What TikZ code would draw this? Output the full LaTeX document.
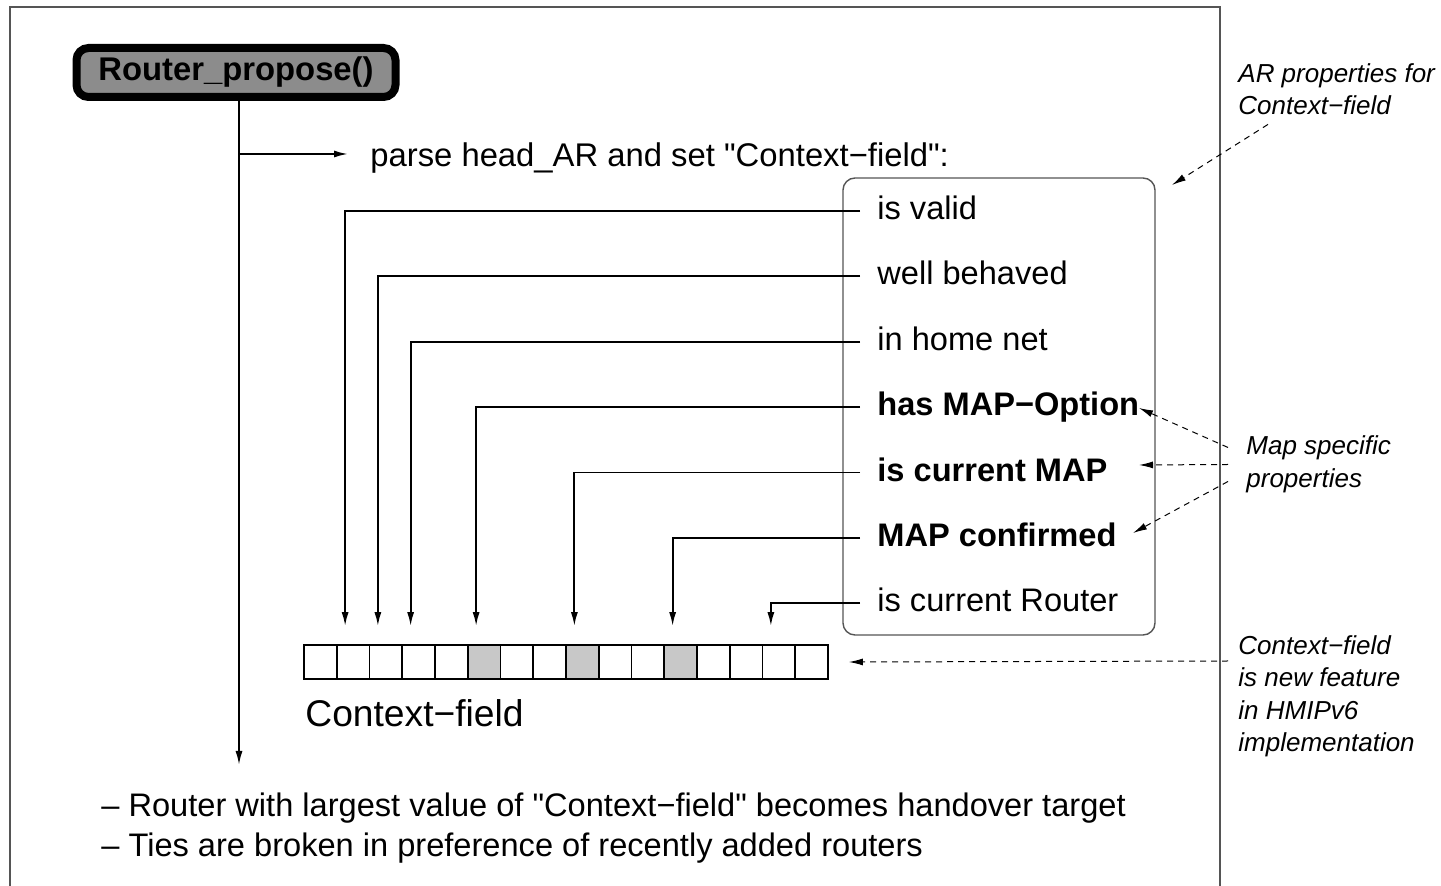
\documentclass[tikz,border=0pt]{standalone}
\usepackage{fontspec}
\setmainfont{Liberation Sans}
\usetikzlibrary{arrows.meta}

\definecolor{boxgray}{HTML}{8C8C8C}
\definecolor{cellgray}{HTML}{C8C8C8}
\definecolor{framegray}{HTML}{555555}

\tikzset{
  conn/.style={line width=0.9pt, -{Latex[length=7pt,width=3.5pt]}},
  note/.style={dash pattern=on 3pt off 2.5pt, line width=0.5pt, -{Latex[length=7pt,width=3.5pt]}},
  item/.style={anchor=base west, inner xsep=8.5pt, inner ysep=0pt, text height=12pt, text depth=3.5pt, font=\fontsize{16.3}{19}\selectfont},
  keyitem/.style={item, font=\fontsize{16.3}{19}\selectfont\bfseries},
  cellbox/.style={draw, line width=0.9pt, inner sep=0pt, minimum width=16.375pt, minimum height=17pt},
  remark/.style={inner sep=0pt, align=left, font=\fontsize{13}{16.25}\selectfont\itshape},
}

\begin{document}
\begin{tikzpicture}[x=0.5pt, y=-0.5pt]
  \useasboundingbox (0,0) rectangle (1441,886);

  % --- Frame ---
  \draw[framegray, line width=0.8pt] (10,886) -- (10,7) -- (1220,7) -- (1220,886);

  % --- Router_propose() ---
  \coordinate (fork) at (239,154);
  \coordinate (trunkend) at (239,765);
  \node[draw, line width=4pt, rounded corners=6pt, fill=boxgray, minimum width=159.5pt, minimum height=24.5pt, inner sep=0pt,
        font=\fontsize{16.4}{19}\selectfont\bfseries] (router) at (236,72.5) {Router\_propose()};
  \draw[conn] (router.south -| trunkend) -- (trunkend);

  \node[anchor=west, inner xsep=11pt, inner ysep=0pt, text height=12.7pt, text depth=0pt,
        font=\fontsize{16.4}{19}\selectfont] (parse) at (348,154) {parse head\_AR and set \textquotedbl Context−field\textquotedbl:};
  \draw[conn] (fork) -- (parse.west);

  % --- AR properties ---
  \node[draw=framegray, line width=0.7pt, rounded corners=6pt, minimum width=156pt, minimum height=228.5pt] (props) at (999,406.5) {};
  \node[item] (valid) at (860,219.5) {is valid};
  \node[item] (behaved) at (860,284.9) {well behaved};
  \node[item] (home) at (860,350.3) {in home net};
  \node[keyitem] (mapopt) at (860,415.7) {has MAP−Option};
  \node[keyitem] (curmap) at (860,481.1) {is current MAP};
  \node[keyitem] (mapconf) at (860,546.5) {MAP confirmed};
  \node[item] (currouter) at (860,611.9) {is current Router};

  % --- Context-field ---
  \foreach \i in {5,8,11} \fill[cellgray] ({304+32.75*\i},645) rectangle ++(32.75,34);
  \foreach \i in {0,...,15} \node[cellbox] (c\i) at ({304+32.75*(\i+0.5)},662) {};
  \node[anchor=base west, inner sep=0pt, font=\fontsize{18.6}{22}\selectfont] (ctxlabel) at (305,727) {Context−field};

  \foreach \src/\dst in {valid/1, behaved/2, home/3, mapopt/5, curmap/8, mapconf/11, currouter/14}
    \draw[conn] (\src.west) -| ([shift={(-8,-18)}]c\dst.north);

  % --- Remarks ---
  \node[remark, anchor=north west] (arnote) at (1238,63) {AR properties for\\Context−field};
  \coordinate (arto) at (1172,185);
  \draw[note] ([shift={(30,9)}]arnote.south west) -- (arto);

  \node[remark, anchor=west, inner xsep=9pt] (mapnote) at (1228,464.5) {Map specific\\properties};
  \coordinate (opttip) at (1139,408);
  \coordinate (curtip) at (1139,465);
  \coordinate (conftip) at (1133,533);
  \draw[note] ([yshift=8.5pt]mapnote.west) -- (opttip);
  \draw[note] (mapnote.west) -- (curtip);
  \draw[note] ([yshift=-8.5pt]mapnote.west) -- (conftip);

  \node[remark, anchor=north west, inner xsep=5pt] (ctxnote) at (1228,635) {Context−field\\is new feature\\in HMIPv6\\implementation};
  \draw[note] ([yshift=-13pt]ctxnote.north west) -- ([xshift=10pt]c15.east);

  % --- Result ---
  \node[anchor=base west, inner sep=0pt, font=\fontsize{16.3}{19}\selectfont] (rule1) at (101,817)
    {– Router with largest value of \textquotedbl Context−field\textquotedbl{} becomes handover target};
  \node[anchor=base west, inner sep=0pt, font=\fontsize{16.3}{19}\selectfont] (rule2) at (101,857)
    {– Ties are broken in preference of recently added routers};

\end{tikzpicture}
\end{document}
